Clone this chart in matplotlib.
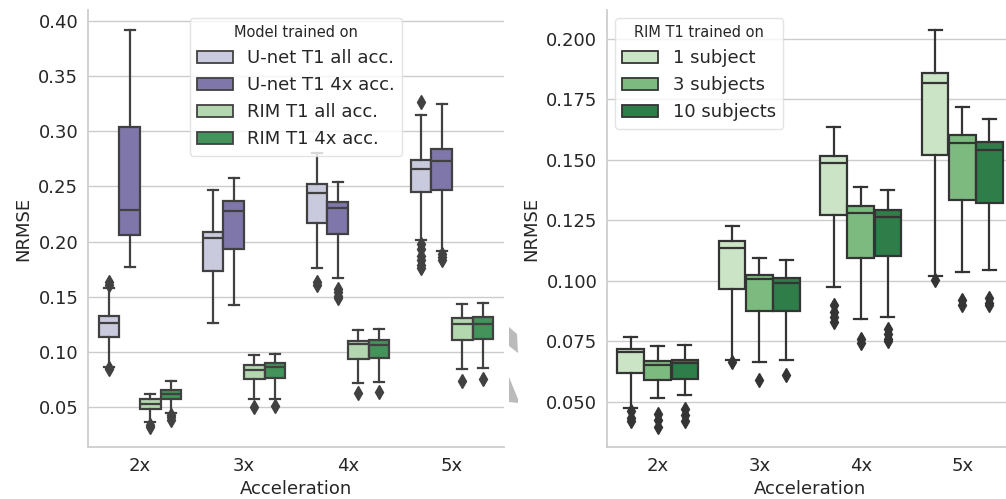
import colorsys

import matplotlib
matplotlib.use('Agg')
import matplotlib.pyplot as plt
from matplotlib.patches import Patch, Polygon
import numpy as np


ACCELERATIONS = ['2x', '3x', '4x', '5x']

# Left panel: one row per model, one entry per acceleration
LEFT_MODELS = ['U-net T1 all acc.', 'U-net T1 4x acc.', 'RIM T1 all acc.', 'RIM T1 4x acc.']
left_whislo = [
    [0.0860, 0.1260, 0.1758, 0.2014],
    [0.1772, 0.1425, 0.1673, 0.1917],
    [0.0367, 0.0573, 0.0720, 0.0848],
    [0.0449, 0.0576, 0.0724, 0.0857],
]
left_q1 = [
    [0.1132, 0.1736, 0.2166, 0.2447],
    [0.2060, 0.1933, 0.2069, 0.2468],
    [0.0482, 0.0754, 0.0935, 0.1108],
    [0.0570, 0.0760, 0.0942, 0.1114],
]
left_med = [
    [0.1265, 0.2030, 0.2443, 0.2655],
    [0.2286, 0.2280, 0.2307, 0.2731],
    [0.0525, 0.0836, 0.1069, 0.1250],
    [0.0615, 0.0860, 0.1062, 0.1253],
]
left_q3 = [
    [0.1325, 0.2090, 0.2519, 0.2740],
    [0.3036, 0.2371, 0.2362, 0.2839],
    [0.0570, 0.0881, 0.1101, 0.1304],
    [0.0654, 0.0902, 0.1108, 0.1313],
]
left_whishi = [
    [0.1582, 0.2468, 0.2800, 0.3148],
    [0.3920, 0.2574, 0.2543, 0.3248],
    [0.0615, 0.0969, 0.1198, 0.1431],
    [0.0736, 0.0983, 0.1205, 0.1446],
]
left_fliers = [
    [[0.161, 0.163, 0.084, 0.085], [], [0.161, 0.163],
     [0.327, 0.198, 0.193, 0.187, 0.183, 0.179, 0.176]],
    [[], [], [0.157, 0.154, 0.151, 0.149], [0.189, 0.186, 0.183]],
    [[0.0337, 0.032], [0.0503], [0.0624], [0.0739]],
    [[0.043, 0.041, 0.0385], [0.0512], [0.0639], [0.0751]],
]

# Right panel: RIM trained on different numbers of subjects
RIGHT_MODELS = ['1 subject', '3 subjects', '10 subjects']
right_whislo = [
    [0.0474, 0.0673, 0.0976, 0.1022],
    [0.0515, 0.0663, 0.0842, 0.1036],
    [0.0529, 0.0674, 0.0852, 0.1043],
]
right_q1 = [
    [0.0621, 0.0967, 0.1273, 0.1519],
    [0.0590, 0.0877, 0.1095, 0.1336],
    [0.0594, 0.0877, 0.1101, 0.1323],
]
right_med = [
    [0.0704, 0.1135, 0.1487, 0.1819],
    [0.0653, 0.1008, 0.1280, 0.1568],
    [0.0659, 0.0990, 0.1264, 0.1540],
]
right_q3 = [
    [0.0718, 0.1163, 0.1516, 0.1860],
    [0.0670, 0.1025, 0.1308, 0.1602],
    [0.0674, 0.1012, 0.1295, 0.1574],
]
right_whishi = [
    [0.0766, 0.1225, 0.1637, 0.2037],
    [0.0729, 0.1094, 0.1388, 0.1717],
    [0.0735, 0.1087, 0.1374, 0.1668],
]
right_fliers = [
    [[0.0462, 0.0432, 0.0421], [0.0665], [0.090, 0.087, 0.085, 0.083], [0.1005]],
    [[0.0449, 0.0425, 0.0396], [0.059], [0.076, 0.0745], [0.092, 0.090]],
    [[0.047, 0.0445, 0.0421], [0.061], [0.080, 0.078, 0.076, 0.075], [0.093, 0.091, 0.090]],
]

LW = 1.6


def desaturate(color, prop=0.75):
    h, l, s = colorsys.rgb_to_hls(*matplotlib.colors.to_rgb(color))
    return colorsys.hls_to_rgb(h, l, s * prop)


def palette(name, n):
    cmap = plt.get_cmap(name)
    bins = np.linspace(0, 1, n + 2)[1:-1]
    return [desaturate(cmap(b)) for b in bins]


def edge_gray(colors):
    lum = min(colorsys.rgb_to_hls(*c)[1] for c in colors) * 0.6
    return (lum, lum, lum)


def draw_boxes(ax, colors, whislo, q1, med, q3, whishi, fliers):
    n = len(colors)
    width = 0.8 / n
    gray = edge_gray(colors)
    for j, color in enumerate(colors):
        stats = []
        for i in range(len(ACCELERATIONS)):
            stats.append({
                'whislo': whislo[j][i], 'q1': q1[j][i], 'med': med[j][i],
                'q3': q3[j][i], 'whishi': whishi[j][i], 'fliers': fliers[j][i],
            })
        pos = np.arange(len(ACCELERATIONS)) + (j - (n - 1) / 2) * width
        ax.bxp(
            stats, positions=pos, widths=width * 0.98, patch_artist=True,
            manage_ticks=False,
            boxprops=dict(facecolor=color, edgecolor=gray, linewidth=LW),
            medianprops=dict(color=gray, linewidth=LW),
            whiskerprops=dict(color=gray, linewidth=LW),
            capprops=dict(color=gray, linewidth=LW),
            flierprops=dict(marker='d', markerfacecolor=gray, markeredgecolor=gray,
                            markersize=7, linestyle='none'),
        )
    ax.set_xlim(-0.5, len(ACCELERATIONS) - 0.5)
    ax.set_xticks(range(len(ACCELERATIONS)))
    ax.set_xticklabels(ACCELERATIONS)
    ax.set_xlabel('Acceleration')
    ax.set_ylabel('NRMSE')
    ax.grid(axis='y', color='#cccccc', linewidth=1.0)
    ax.grid(axis='x', visible=False)
    ax.set_axisbelow(True)
    for side in ('top', 'right'):
        ax.spines[side].set_visible(False)
    for side in ('left', 'bottom'):
        ax.spines[side].set_color('#cccccc')
        ax.spines[side].set_linewidth(1.25)
    ax.tick_params(length=0, pad=7, colors='#262626', labelsize=13)
    return [Patch(facecolor=c, edgecolor=gray, linewidth=1.3) for c in colors]


plt.rcParams['font.family'] = 'DejaVu Sans'
plt.rcParams['text.color'] = '#262626'
plt.rcParams['axes.labelcolor'] = '#262626'
plt.rcParams['axes.labelsize'] = 13

fig = plt.figure(figsize=(10.06, 4.99), dpi=100)
ax_left = fig.add_axes([88 / 1006, 52 / 499, 416 / 1006, 437 / 499])
ax_right = fig.add_axes([607 / 1006, 52 / 499, 406 / 1006, 437 / 499])

left_colors = palette('Purples', 2) + palette('Greens', 2)
handles = draw_boxes(ax_left, left_colors, left_whislo, left_q1, left_med,
                     left_q3, left_whishi, left_fliers)
ax_left.set_ylim(0.0137, 0.41)
ax_left.set_yticks([0.05, 0.10, 0.15, 0.20, 0.25, 0.30, 0.35, 0.40])
ax_left.set_yticklabels([f'{v:.2f}' for v in ax_left.get_yticks()])
ax_left.legend(handles, LEFT_MODELS, title='Model trained on', loc='upper center',
               fontsize=13, title_fontsize=10.5, frameon=True, edgecolor='#dddddd',
               handlelength=2.0, borderaxespad=0.45)

right_colors = palette('Greens', 3)
handles = draw_boxes(ax_right, right_colors, right_whislo, right_q1, right_med,
                     right_q3, right_whishi, right_fliers)
ax_right.set_ylim(0.0313, 0.212)
ax_right.set_yticks([0.050, 0.075, 0.100, 0.125, 0.150, 0.175, 0.200])
ax_right.set_yticklabels([f'{v:.3f}' for v in ax_right.get_yticks()])
ax_right.legend(handles, RIGHT_MODELS, title='RIM T1 trained on', loc='upper left',
                fontsize=13, title_fontsize=10.5, frameon=True, edgecolor='#dddddd',
                handlelength=2.0, borderaxespad=0.45)

# Light gray fragments between the two panels
for pts in ([(509, 327), (517, 334), (518, 353), (509, 346)],
            [(509, 377), (518, 399), (518, 403), (509, 402)]):
    xy = [(x / 1006, 1 - y / 499) for x, y in pts]
    fig.patches.append(Polygon(xy, closed=True, transform=fig.transFigure,
                               facecolor='#bbbbbb', edgecolor='none'))

fig.savefig('out.png', dpi=100)
